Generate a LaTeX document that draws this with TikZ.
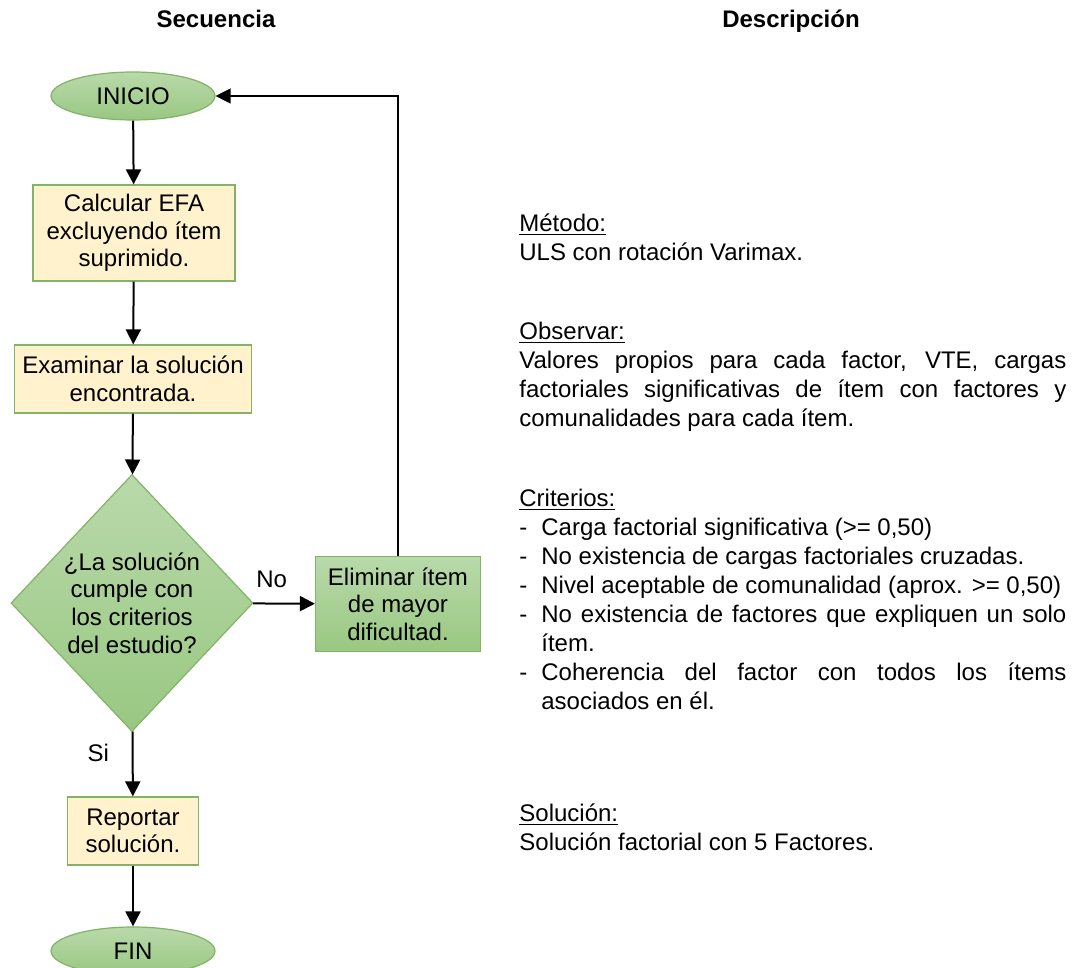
\documentclass[tikz,border=0pt]{standalone}
\usepackage{fontspec}
\setmainfont{Liberation Sans}
\usetikzlibrary{shapes.geometric,arrows.meta}

\definecolor{verdeSup}{RGB}{185,217,170}
\definecolor{verdeInf}{RGB}{153,200,130}
\definecolor{verdeBorde}{RGB}{130,179,102}
\definecolor{amarillo}{RGB}{255,242,204}

\hyphenpenalty=10000
\exhyphenpenalty=10000
\tolerance=9999

\newcommand\guion[1]{\par\noindent\hangindent=11pt\hangafter=1\makebox[11pt][l]{-}#1}

\tikzset{
  caja/.style={draw=verdeBorde, line width=0.6pt, align=center, inner sep=0pt,
    font=\fontsize{12}{13.8}\selectfont},
  terminal/.style={caja, ellipse, top color=verdeSup, bottom color=verdeInf,
    minimum width=82pt, minimum height=24pt},
  proceso/.style={caja, rectangle, fill=amarillo},
  accion/.style={caja, rectangle, top color=verdeSup, bottom color=verdeInf},
  decision/.style={caja, diamond, top color=verdeSup, bottom color=verdeInf,
    minimum width=121pt, minimum height=128.5pt},
  flecha/.style={-{Triangle[length=7.5pt,width=7.5pt]}, line width=1pt},
  retorno/.style={flecha, line width=0.7pt},
  etiqueta/.style={font=\fontsize{12}{13.8}\selectfont},
  titulo/.style={anchor=base, font=\bfseries\fontsize{12}{13.8}\selectfont},
  desc/.style={anchor=north west, inner sep=0pt, text width=273.5pt, align=justify,
    font=\fontsize{12}{14.5}\selectfont},
}

\begin{document}
\begin{tikzpicture}[x=0.5pt,y=-0.5pt]
\useasboundingbox (0,0) rectangle (1072,968);

% titulos
\node[titulo] (hsec) at (216,28) {Secuencia};
\node[titulo] (hdes) at (791,28) {Descripción};

% secuencia
\node[terminal] (inicio) at (133,96) {INICIO};
\node[proceso, minimum width=101pt, minimum height=48pt] (calc) at (134,233)
  {Calcular EFA\\excluyendo ítem\\suprimido.};
\node[proceso, minimum width=118.5pt, minimum height=34pt] (exam) at (133,379)
  {Examinar la solución\\encontrada.};
\node[decision] (cumple) at (132,603)
  {¿La solución\\cumple con\\los criterios\\del estudio?};
\node[accion, minimum width=82.5pt, minimum height=47.5pt] (elim) at (398,604)
  {Eliminar ítem\\de mayor\\dificultad.};
\node[proceso, minimum width=65.5pt, minimum height=34pt] (rep) at (133,831)
  {Reportar\\solución.};
\node[terminal] (fin) at (133,951) {FIN};

\draw[flecha] (inicio) -- (calc);
\draw[flecha] (calc) -- (exam);
\draw[flecha] (exam) -- (cumple);
\draw[flecha] (cumple) -- node[pos=0.3, above=4pt, etiqueta] {No} (elim);
\draw[flecha] (cumple) -- node[pos=0.33, left=8pt, etiqueta] {Si} (rep);
\draw[flecha] (rep) -- (fin);
\draw[retorno] (elim.north) |- (inicio.east);

% descripcion
\node[desc] (metodo) at (519,213) {\noindent\underline{Método:}\par\noindent
  ULS con rotación Varimax.\par};
\node[desc] (observar) at (519,322) {\noindent\underline{Observar:}\par\noindent
  Valores propios para cada factor, VTE, cargas\linebreak
  factoriales significativas de ítem con factores y\linebreak
  comunalidades para cada ítem.\par};
\node[desc] (criterios) at (519,489) {\noindent\underline{Criterios:}
  \guion{Carga factorial significativa (>= 0,50)}
  \guion{No existencia de cargas factoriales cruzadas.}
  \guion{Nivel aceptable de comunalidad (aprox. >= 0,50)}
  \guion{No existencia de factores que expliquen un solo\linebreak ítem.}
  \guion{Coherencia del factor con todos los ítems\linebreak asociados en él.}\par};
\node[desc] (solucion) at (519,803) {\noindent\underline{Solución:}\par\noindent
  Solución factorial con 5 Factores.\par};
\end{tikzpicture}
\end{document}
